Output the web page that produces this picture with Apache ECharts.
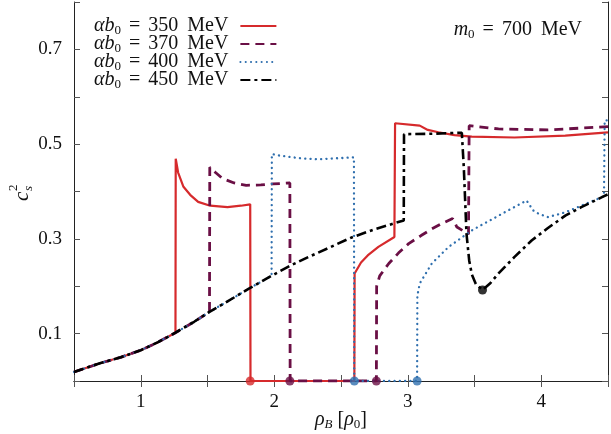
<!DOCTYPE html>
<html lang="en">
<head>
    <meta charset="UTF-8">
    <title>sound speed</title>
    <script src="https://cdn.jsdelivr.net/npm/echarts@6/dist/echarts.min.js"></script>
</head>
<body style="margin:0">
    <div id="main" style="width: 611px;height:434px;"></div>
    <script>
        // common low-density branch, shared by all curves
        var base = [[0.5,0.019],[0.7,0.038],[0.85,0.05],[1.0,0.065],[1.13,0.082],[1.26,0.102],[1.4,0.125],[1.515,0.146],
            [1.65,0.168],[1.81,0.195],[1.98,0.222],[2.11,0.242],[2.25,0.261],[2.4,0.28],[2.58,0.303],[2.75,0.32],[2.97,0.339]];
        var names = ['350','370','400','450'];
        var colors = ['#d62a2c','#6a0f45','#2f6fae','#000000'];
        var tail350 = [[1.262,0.469],[1.28,0.44],[1.32,0.41],[1.37,0.393],[1.43,0.378],[1.52,0.37],[1.65,0.367],[1.75,0.37],[1.82,0.373],
            [1.822,0],[2.6,0],[2.602,0.227],[2.65,0.25],[2.7,0.265],[2.78,0.283],[2.9,0.304],[2.905,0.544],[3.09,0.539],[3.15,0.53],
            [3.23,0.525],[3.35,0.519],[3.48,0.516],[3.8,0.514],[4.18,0.518],[4.5,0.525]];
        var tail370 = [[1.517,0.451],[1.56,0.44],[1.614,0.427],[1.7,0.418],[1.79,0.413],[1.9,0.414],[1.99,0.416],[2.117,0.418],
            [2.119,0],[2.765,0],[2.767,0.2],[2.79,0.222],[2.858,0.248],[2.93,0.27],[3.007,0.29],[3.1,0.307],[3.18,0.321],[3.26,0.333],
            [3.336,0.343],[3.368,0.325],[3.455,0.31],[3.46,0.539],[3.68,0.532],[4.05,0.53],[4.5,0.537]];
        var tail400 = [[1.982,0.479],[2.037,0.476],[2.2,0.47],[2.32,0.468],[2.597,0.472],[2.599,0],[3.07,0],[3.072,0.18],[3.09,0.206],
            [3.18,0.248],[3.306,0.283],[3.48,0.318],[3.68,0.349],[3.89,0.381],[3.94,0.36],[3.98,0.353],[4.05,0.346],[4.18,0.356],
            [4.3,0.37],[4.47,0.39],[4.475,0.55],[4.5,0.55]];
        var tail450 = [[2.972,0.521],[3.2,0.522],[3.405,0.524],[3.42,0.45],[3.44,0.311],[3.46,0.255],[3.48,0.225],[3.51,0.205],[3.56,0.192],
            [3.62,0.207],[3.68,0.227],[3.8,0.262],[3.93,0.297],[4.05,0.323],[4.18,0.349],[4.3,0.367],[4.455,0.388],[4.5,0.394]];
        var branchAt = [1.26, 1.515, 1.98, 2.97];
        var tails = [tail350, tail370, tail400, tail450];
        // transition end points marked with dots: [x, y, curve index]
        var dots = [[1.82,0,0],[2.117,0,1],[2.6,0,2],[2.765,0,1],[3.07,0,2],[3.56,0.192,3]];

        var dashes = ['solid', [9,6], [0.1,5.2], [10,4,3,4]];
        var widths = [2.2, 2.8, 2.3, 2.6];

        var serif = 'Liberation Serif';
        var series = names.map(function(n, i){
            var pts = base.filter(function(p){ return p[0] <= branchAt[i]; }).concat(tails[i]);
            return {
                name: n, type: 'line', data: pts, symbol: 'none', z: 2 + i,
                lineStyle: {color: colors[i], width: widths[i], type: dashes[i], cap: i == 2 ? 'round' : 'butt'},
                itemStyle: {color: colors[i], opacity: 0}
            };
        });
        series.push({
            type: 'scatter', symbolSize: 9, z: 10,
            data: dots.map(function(d){ return {value: [d[0], d[1]], itemStyle: {color: colors[d[2]]}}; })
        });

        function axis(pos, show){
            var horiz = pos == 'bottom' || pos == 'top';
            return {
                type: 'value', position: pos, min: horiz ? 0.5 : 0, max: horiz ? 4.5 : 0.8, interval: horiz ? 0.5 : 0.1,
                axisLine: {show: true, lineStyle: {color: '#222', width: 1}},
                axisTick: {show: true, inside: true, length: 6, lineStyle: {color: '#555'}},
                splitLine: {show: false},
                axisLabel: {
                    show: show, color: '#111', fontFamily: serif, fontSize: 19, margin: 12,
                    showMinLabel: true, showMaxLabel: true,
                    formatter: function(v){
                        if (horiz) return Math.abs(v - Math.round(v)) < 1e-6 ? String(Math.round(v)) : '';
                        var k = Math.round(v * 10);
                        return (k % 2 == 1 && k < 8) ? (k / 10).toFixed(1) : '';
                    }
                }
            };
        }

        // math-like rich text pieces
        var rich = {
            i: {fontFamily: serif, fontSize: 20, fontStyle: 'italic', color: '#111', lineHeight: 19},
            r: {fontFamily: serif, fontSize: 20, color: '#111', lineHeight: 19},
            u: {fontFamily: serif, fontSize: 20, color: '#111', lineHeight: 19, padding: [0, 0, 0, 9]},
            e: {fontFamily: serif, fontSize: 20, color: '#111', lineHeight: 19, padding: [0, 8, 0, 8]},
            s: {fontFamily: serif, fontSize: 13, color: '#111', lineHeight: 12, padding: [9, 0, 0, 0]},
            si: {fontFamily: serif, fontSize: 13, fontStyle: 'italic', color: '#111', lineHeight: 12, padding: [9, 0, 0, 0]}
        };

        var myChart = echarts.init(document.getElementById('main'));
        var option = {
            animation: false,
            grid: {left: 74, right: 3, top: 2, bottom: 53},
            xAxis: [axis('bottom', true), axis('top', false)],
            yAxis: [axis('left', true), axis('right', false)],
            legend: {
                data: names, orient: 'vertical', left: 89, top: 10, align: 'right',
                itemWidth: 36, itemHeight: 10, itemGap: -4,
                formatter: function(n){ return '{i|αb}{s|0}{e|=}{r|' + n + '}{u|MeV}'; },
                textStyle: {fontFamily: serif, fontSize: 20, color: '#111', padding: [0, 7, 0, 0], rich: rich}
            },
            graphic: [
                {
                    type: 'text', x: 582, y: 30,
                    style: {
                        text: '{i|m}{s|0}{e|=}{r|700}{u|MeV}', fill: '#111', font: '20px "Liberation Serif"',
                        align: 'right', verticalAlign: 'middle', rich: rich
                    }
                },
                {
                    type: 'text', x: 341, y: 420,
                    style: {
                        text: '{i|ρ}{si|B} {r|[}{i|ρ}{s|0}{r|]}', fill: '#111', font: '20px "Liberation Serif"',
                        align: 'center', verticalAlign: 'middle', rich: rich
                    }
                },
                {
                    type: 'group', x: 22, y: 190, rotation: Math.PI / 2,
                    children: [
                        {type: 'text', x: -11, y: 0, style: {text: 'c', font: 'italic 21px "Liberation Serif"', fill: '#111', align: 'left', verticalAlign: 'middle'}},
                        {type: 'text', x: -1, y: -8, style: {text: '2', font: '13px "Liberation Serif"', fill: '#111', align: 'left', verticalAlign: 'middle'}},
                        {type: 'text', x: -1, y: 7, style: {text: 's', font: 'italic 13px "Liberation Serif"', fill: '#111', align: 'left', verticalAlign: 'middle'}}
                    ]
                }
            ],
            series: series
        };
        myChart.setOption(option);
    </script>
</body>
</html>
